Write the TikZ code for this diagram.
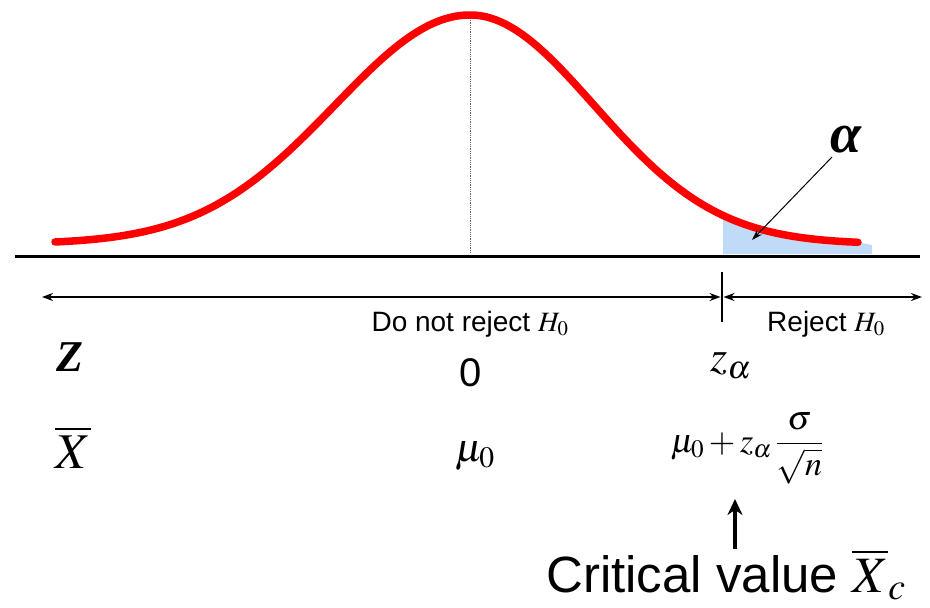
\documentclass[tikz,border=0pt]{standalone}
\usepackage{mathptmx}
\usepackage[no-math]{fontspec}
\setmainfont{Liberation Serif}
\setsansfont{Liberation Sans}
\usetikzlibrary{arrows.meta, positioning, calc}
\definecolor{tailblue}{RGB}{191,219,247}

\begin{document}
\begin{tikzpicture}[x=1pt, y=-1pt,
    curve/.style={line width=7.5pt, red, line cap=round, line join=round},
    tailarea/.style={fill=tailblue},
    axis/.style={line width=3pt},
    meanline/.style={densely dotted, line width=0.8pt, black!60},
    region/.style={{Stealth[length=11pt,width=8pt]}-{Stealth[length=11pt,width=8pt]}, line width=2pt},
    regiontext/.style={inner sep=0pt, font=\sffamily\fontsize{28}{30}\selectfont},
    symtext/.style={inner sep=0pt, font=\fontsize{44}{46}\selectfont},
    pointer/.style={-{Stealth[length=11pt,width=7pt]}, line width=1pt},
    uparrow/.style={-{Stealth[length=16pt,width=15pt]}, line width=4pt}
]
\useasboundingbox (0,0) rectangle (930,608);

% shaded tail and normal curve
\fill[tailarea] plot[domain=723:858, samples=30, smooth] (\x,{244-229*exp(-0.5*((\x-470)/124)^2)})
    -- (872,245) -- (872,254) -- (723,254) -- cycle;
\draw[axis] (15,256) -- (920,256);
\coordinate (top) at (470,18);
\coordinate (foot) at (470,253);
\draw[meanline] (top) -- (foot);
\draw[curve] plot[domain=55:470, samples=60, smooth] (\x,{244-229*exp(-0.5*((\x-470)/135)^2)})
    -- plot[domain=470:858, samples=60, smooth] (\x,{244-229*exp(-0.5*((\x-470)/124)^2)});

% alpha
\node[inner sep=0pt, anchor=south west, font=\fontsize{56}{58}\selectfont] (alpha) at (830,153) {\textbf{\textit{α}}};
\coordinate (atip) at (752,240);
\draw[pointer] ([shift={(2pt,-4pt)}]alpha.south west) -- (atip);

% regions
\coordinate (lend) at (42,297);
\coordinate (crit) at (722,297);
\coordinate (rend) at (922,297);
\draw[region] (lend) -- ([xshift=-1.5pt]crit);
\draw[region] ([xshift=1.5pt]crit) -- (rend);
\draw[line width=1.8pt] ([yshift=-25pt]crit) -- ([yshift=25pt]crit);
\node[regiontext] (keep) at (470,324) {Do not reject $H_0$};
\node[regiontext] (reject) at (826,324) {Reject $H_0$};

% scales
\node[symtext] (zname) at (70,357) {\textbf{\textit{Z}}};
\node[inner sep=0pt, font=\sffamily\fontsize{40}{42}\selectfont] (zero) at (471,373) {0};
\node[symtext] (zalpha) at (731,366) {$z_\alpha$};
\node[inner sep=0pt, font=\fontsize{50}{52}\selectfont] (xname) at (73,447) {$\overline{X}$};
\node[inner sep=0pt, font=\fontsize{40}{42}\selectfont] (mu) at (475,456) {$\mu_0$};
\node[inner sep=0pt, font=\fontsize{34}{36}\selectfont] (xcrit) at (747,448) {$\mu_0+z_\alpha\,\displaystyle\frac{\sigma}{\sqrt{n}}$};

% critical value
\node[inner sep=0pt, anchor=base, font=\sffamily\fontsize{51}{53}\selectfont] (cv) at (726,592) {Critical value $\overline{X}_c$};
\coordinate (cvtip) at (735,499);
\draw[uparrow] (cv.north -| cvtip) -- (cvtip);
\end{tikzpicture}
\end{document}
